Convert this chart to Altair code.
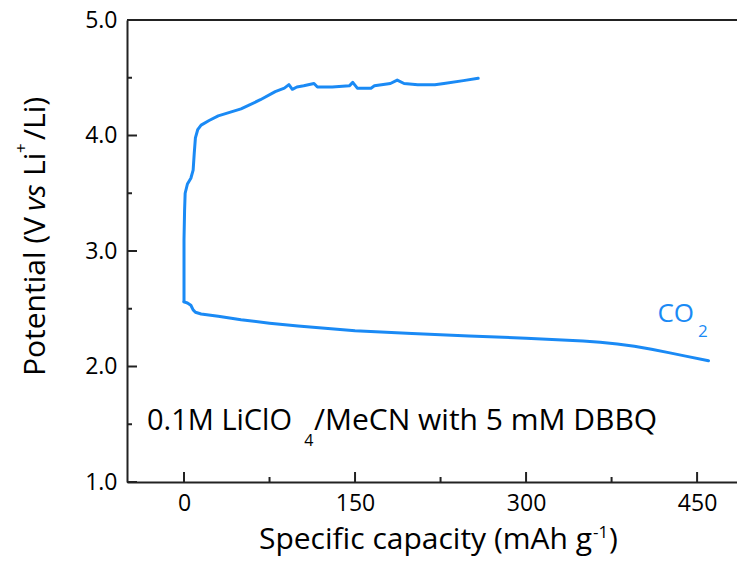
import altair as alt
import pandas as pd

# ---- data ----
discharge_cap = [0, 3, 6, 8, 10, 15, 30, 50, 75, 100, 150, 200, 250, 300, 350, 365, 380, 395, 410, 425,
                 440, 460]
discharge_v = [2.56, 2.55, 2.53, 2.49, 2.47, 2.455, 2.435, 2.405, 2.375, 2.35, 2.31, 2.285, 2.265, 2.245,
               2.22, 2.21, 2.195, 2.175, 2.15, 2.12, 2.09, 2.05]

charge_cap = [0, 0, 0, 0.5, 1, 3, 6, 8, 9, 10, 12, 15, 22, 30, 50, 67, 80, 88, 92, 95, 99, 105, 114, 117,
              130, 145, 148, 152, 164, 167, 181, 187, 193, 205, 220, 228, 245, 258]
charge_v = [2.56, 2.8, 3.1, 3.35, 3.5, 3.58, 3.63, 3.7, 3.85, 3.98, 4.05, 4.09, 4.13, 4.17, 4.23, 4.31,
            4.38, 4.41, 4.44, 4.40, 4.42, 4.43, 4.45, 4.42, 4.42, 4.43, 4.46, 4.41, 4.41, 4.43, 4.45,
            4.48, 4.45, 4.44, 4.44, 4.45, 4.475, 4.495]

x_major = [0, 150, 300, 450]
x_minor = [75, 225, 375]
y_major = [1.0, 2.0, 3.0, 4.0, 5.0]
y_minor = [1.5, 2.5, 3.5, 4.5]

y_title_parts = ["Potential (V", "vs", "Li", "+", "/Li)"]
x_title_parts = ["Specific capacity (mAh g", "-1", ")"]
note_parts = ["0.1M LiClO", "4", "/MeCN with 5 mM DBBQ"]
gas_parts = ["CO", "2"]

# ---- style ----
W, H = 610, 462
BLUE = "#1a8af5"
AX = "#222222"
FONT = "Open Sans"

rows = []
for i, (c, v) in enumerate(zip(discharge_cap, discharge_v)):
    rows.append({"series": "discharge", "order": i, "cap": c, "v": v})
for i, (c, v) in enumerate(zip(charge_cap, charge_v)):
    rows.append({"series": "charge", "order": i, "cap": c, "v": v})
df = pd.DataFrame(rows)

xs = alt.Scale(domain=[-50, 485], nice=False, zero=False)
ys = alt.Scale(domain=[1, 5], nice=False, zero=False)

x_axis = alt.Axis(values=x_major, title=None, ticks=False, labelFontSize=23, labelFont=FONT,
                  labelColor="black", domainColor=AX, domainWidth=2, labelPadding=10, grid=False)
y_axis = alt.Axis(values=y_major, format=".1f", title=None, ticks=False, labelFontSize=23,
                  labelFont=FONT, labelColor="black", domainColor=AX, domainWidth=2,
                  labelPadding=10, grid=False)

X = alt.X("cap:Q", scale=xs, axis=x_axis)
Y = alt.Y("v:Q", scale=ys, axis=y_axis)

line = alt.Chart(df).mark_line(color=BLUE, strokeWidth=3, strokeJoin="round", strokeCap="round").encode(
    x=X, y=Y, detail="series:N", order="order:Q")

# inward ticks
xmaj = alt.Chart(pd.DataFrame({"cap": x_major})).mark_rule(color=AX, strokeWidth=2).encode(
    x=X, y=alt.value(H), y2=alt.value(H - 10))
xmin = alt.Chart(pd.DataFrame({"cap": x_minor})).mark_rule(color=AX, strokeWidth=2).encode(
    x=X, y=alt.value(H), y2=alt.value(H - 5))
ymaj = alt.Chart(pd.DataFrame({"v": y_major})).mark_rule(color=AX, strokeWidth=2).encode(
    y=Y, x=alt.value(0), x2=alt.value(10))
ymin = alt.Chart(pd.DataFrame({"v": y_minor})).mark_rule(color=AX, strokeWidth=2).encode(
    y=Y, x=alt.value(0), x2=alt.value(5))
top = alt.Chart(pd.DataFrame({"v": [5.0]})).mark_rule(color=AX, strokeWidth=2).encode(
    y=Y, x=alt.value(0), x2=alt.value(W))

one = pd.DataFrame({"k": [0]})

def ptext(txt, x, y, size, align="left", angle=0, style="normal", color="black", baseline="alphabetic"):
    return alt.Chart(one).mark_text(text=txt, font=FONT, fontSize=size, align=align, angle=angle,
                                    fontStyle=style, color=color, baseline=baseline).encode(
        x=alt.value(x), y=alt.value(y))

def dtext(txt, cap, v, size, align="left", color="black"):
    return alt.Chart(pd.DataFrame({"cap": [cap], "v": [v]})).mark_text(
        text=txt, font=FONT, fontSize=size, align=align, color=color, baseline="alphabetic").encode(
        x=X, y=Y)

# y title (rotated pieces)
yt = [
    ptext(y_title_parts[0], -82, 197, 30, align="right", angle=270),
    ptext(y_title_parts[1], -82, 191, 30, align="left", angle=270, style="italic"),
    ptext(y_title_parts[2], -82, 156, 30, align="left", angle=270),
    ptext(y_title_parts[3], -100, 133, 17, align="left", angle=270),
    ptext(y_title_parts[4], -82, 120, 30, align="left", angle=270),
]
# x title pieces
xt = [
    ptext(x_title_parts[0], 465, 529, 30, align="right"),
    ptext(x_title_parts[1], 466, 518, 17, align="left"),
    ptext(x_title_parts[2], 482, 529, 30, align="left"),
]
# annotations
notes = [
    dtext(note_parts[0], 94.7, 1.45, 29, align="right"),
    dtext(note_parts[1], 105.5, 1.31, 16, align="left"),
    dtext(note_parts[2], 114.0, 1.45, 30, align="left"),
    dtext(gas_parts[0], 447.3, 2.385, 26, align="right", color=BLUE),
    dtext(gas_parts[1], 450.8, 2.255, 17, align="left", color=BLUE),
]

chart = alt.layer(line, xmaj, xmin, ymaj, ymin, top, *yt, *xt, *notes).properties(
    width=W, height=H,
    autosize=alt.AutoSizeParams(type="none"),
    padding={"left": 119, "top": 12, "right": 0, "bottom": 75},
    background="white",
).configure_view(stroke=None)

chart.save("out.html", embed_options={"renderer": "svg", "actions": False})
